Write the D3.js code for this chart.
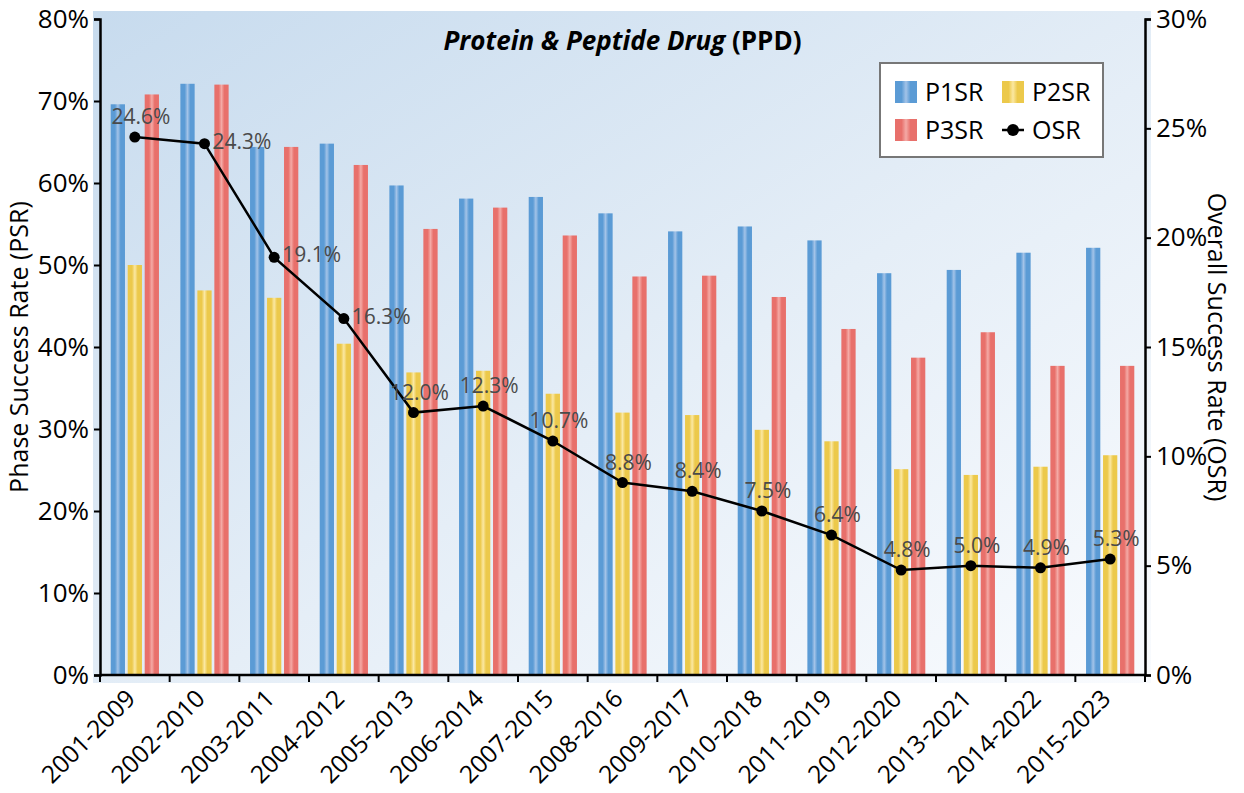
<!DOCTYPE html>
<html>
<head>
<meta charset="utf-8">
<script src="https://cdn.jsdelivr.net/npm/d3@7"></script>
<style>
  body { margin: 0; background: #fff; }
  text { font-family: "Open Sans", "Noto Sans", sans-serif; }
</style>
</head>
<body>
<div id="chart"></div>
<script>
// data
const categories = ["2001-2009", "2002-2010", "2003-2011", "2004-2012", "2005-2013",
  "2006-2014", "2007-2015", "2008-2016", "2009-2017", "2010-2018", "2011-2019",
  "2012-2020", "2013-2021", "2014-2022", "2015-2023"];
const p1sr = [69.6, 72.1, 64.4, 64.8, 59.7, 58.1, 58.3, 56.3, 54.1, 54.7, 53.0, 49.0, 49.4, 51.5, 52.1];
const p2sr = [50.0, 46.9, 46.0, 40.4, 36.9, 37.1, 34.3, 32.0, 31.7, 29.9, 28.5, 25.1, 24.4, 25.4, 26.8];
const p3sr = [70.8, 72.0, 64.4, 62.2, 54.4, 57.0, 53.6, 48.6, 48.7, 46.1, 42.2, 38.7, 41.8, 37.7, 37.7];
const osr = [24.6, 24.3, 19.1, 16.3, 12.0, 12.3, 10.7, 8.8, 8.4, 7.5, 6.4, 4.8, 5.0, 4.9, 5.3];
const seriesNames = ["P1SR", "P2SR", "P3SR"];
const leftTicks = [0, 10, 20, 30, 40, 50, 60, 70, 80];
const rightTicks = [0, 5, 10, 15, 20, 25, 30];

const width = 1244;
const height = 793;
const margin = { top: 19, bottom: 118, left: 100, right: 99 };

const svg = d3.select("#chart")
  .append("svg")
  .attr("width", width)
  .attr("height", height);

const defs = svg.append("defs");

// soft diagonal background of plot area
const bg = defs.append("linearGradient")
  .attr("id", "bg")
  .attr("x1", 0).attr("y1", 0)
  .attr("x2", 1).attr("y2", 1);
bg.append("stop").attr("offset", "0%").attr("stop-color", "#c7dbee");
bg.append("stop").attr("offset", "55%").attr("stop-color", "#e5eef7");
bg.append("stop").attr("offset", "100%").attr("stop-color", "#f9fbfe");

// bar gradients: darker edges, light stripe in the middle
const barColors = {
  P1SR: { edge: "#5b9bd5", mid: "#a3c3e8" },
  P2SR: { edge: "#ecc94b", mid: "#fbe8a2" },
  P3SR: { edge: "#e8706b", mid: "#f4aaa6" }
};
seriesNames.forEach(name => {
  const g = defs.append("linearGradient")
    .attr("id", "grad-" + name)
    .attr("x1", 0).attr("x2", 1).attr("y1", 0).attr("y2", 0);
  [[0, "edge"], [0.3, "edge"], [0.5, "mid"], [0.7, "edge"], [1, "edge"]].forEach(s => {
    g.append("stop")
      .attr("offset", s[0])
      .attr("stop-color", barColors[name][s[1]]);
  });
});

// scales
const x = d3.scaleBand()
  .domain(categories)
  .range([margin.left, width - margin.right]);

const xInner = d3.scaleBand()
  .domain(seriesNames)
  .range([0, x.bandwidth()])
  .paddingInner(0.16)
  .paddingOuter(0.63);

const y = d3.scaleLinear()
  .domain([0, 80])
  .range([height - margin.bottom, margin.top]);

const y2 = d3.scaleLinear()
  .domain([0, 30])
  .range([height - margin.bottom, margin.top]);

svg.append("rect")
  .attr("x", margin.left - 7)
  .attr("y", margin.top - 8)
  .attr("width", width - margin.left - margin.right + 13)
  .attr("height", height - margin.top - margin.bottom + 16)
  .attr("fill", "url(#bg)");

// title
const title = svg.append("text")
  .attr("x", (margin.left + width - margin.right) / 2)
  .attr("y", 50)
  .attr("text-anchor", "middle")
  .attr("font-size", 26)
  .attr("font-weight", "bold")
  .attr("fill", "#000");
title.append("tspan").attr("font-style", "italic").text("Protein & Peptide Drug");
title.append("tspan").text(" (PPD)");

// bars
const rows = categories.map((c, i) => ({ cat: c, P1SR: p1sr[i], P2SR: p2sr[i], P3SR: p3sr[i] }));

const groups = svg.selectAll("g.group")
  .data(rows)
  .enter()
  .append("g")
  .attr("class", "group")
  .attr("transform", d => `translate(${x(d.cat)},0)`);

groups.selectAll("rect")
  .data(d => seriesNames.map(s => ({ key: s, value: d[s] })))
  .enter()
  .append("rect")
  .attr("x", d => xInner(d.key))
  .attr("width", xInner.bandwidth())
  .attr("y", d => y(d.value))
  .attr("height", d => y(0) - y(d.value))
  .attr("fill", d => `url(#grad-${d.key})`);

// axes
function leftAxis(g) {
  g.attr("transform", `translate(${margin.left},0)`)
    .call(d3.axisLeft(y).tickValues(leftTicks).tickSize(6).tickPadding(5).tickFormat(d => d + "%"));
}
function rightAxis(g) {
  g.attr("transform", `translate(${width - margin.right},0)`)
    .call(d3.axisRight(y2).tickValues(rightTicks).tickSize(6).tickPadding(5).tickFormat(d => d + "%"));
}
function bottomAxis(g) {
  const bounds = categories.map(c => x(c)).concat([width - margin.right]);
  g.attr("transform", `translate(0,${height - margin.bottom})`);
  g.append("line")
    .attr("x1", margin.left).attr("x2", width - margin.right)
    .attr("stroke", "#000").attr("stroke-width", 2.5);
  g.selectAll("line.tick")
    .data(bounds)
    .enter()
    .append("line")
    .attr("class", "tick")
    .attr("x1", d => d).attr("x2", d => d)
    .attr("y1", 0).attr("y2", 7)
    .attr("stroke", "#000").attr("stroke-width", 2);
  g.selectAll("text")
    .data(categories)
    .enter()
    .append("text")
    .attr("transform", d => `translate(${x(d) + x.bandwidth() / 2 + 2},${25}) rotate(-45)`)
    .attr("text-anchor", "end")
    .attr("font-size", 24.5)
    .attr("fill", "#000")
    .text(d => d);
}

[leftAxis, rightAxis].forEach(fn => {
  const g = svg.append("g").call(fn);
  g.select(".domain").attr("stroke", "#000").attr("stroke-width", 2.5);
  g.selectAll(".tick line").attr("stroke", "#000").attr("stroke-width", 2);
  g.selectAll(".tick text")
    .attr("font-size", 26)
    .attr("fill", "#000")
    .style("font-family", "'Open Sans', sans-serif");
});
svg.append("g").call(bottomAxis);

// axis titles
svg.append("text")
  .attr("transform", `translate(28,${(margin.top + height - margin.bottom) / 2}) rotate(-90)`)
  .attr("text-anchor", "middle")
  .attr("font-size", 25)
  .attr("fill", "#000")
  .text("Phase Success Rate (PSR)");

svg.append("text")
  .attr("transform", `translate(1208,${(margin.top + height - margin.bottom) / 2}) rotate(90)`)
  .attr("text-anchor", "middle")
  .attr("font-size", 25)
  .attr("fill", "#000")
  .text("Overall Success Rate (OSR)");

// OSR line
const cx = i => x(categories[i]) + x.bandwidth() / 2;
const line = d3.line()
  .x((d, i) => cx(i))
  .y(d => y2(d));

svg.append("path")
  .datum(osr)
  .attr("d", line)
  .attr("fill", "none")
  .attr("stroke", "#000")
  .attr("stroke-width", 2.5);

svg.selectAll("circle.osr")
  .data(osr)
  .enter()
  .append("circle")
  .attr("class", "osr")
  .attr("cx", (d, i) => cx(i))
  .attr("cy", d => y2(d))
  .attr("r", 5.5)
  .attr("fill", "#000");

// labels: steep-drop points get their label on the right, the rest above
const sideLabel = i => i >= 1 && i <= 3;
svg.selectAll("text.osr-label")
  .data(osr)
  .enter()
  .append("text")
  .attr("class", "osr-label")
  .attr("x", (d, i) => cx(i) + (sideLabel(i) ? 8 : 6))
  .attr("y", (d, i) => y2(d) + (sideLabel(i) ? 5 : -13))
  .attr("text-anchor", (d, i) => sideLabel(i) ? "start" : "middle")
  .attr("font-size", 21)
  .attr("fill", "#4a4a4a")
  .text(d => d.toFixed(1) + "%");

// legend
const legend = svg.append("g").attr("transform", "translate(880,63)");
legend.append("rect")
  .attr("width", 223)
  .attr("height", 94)
  .attr("fill", "#fff")
  .attr("stroke", "#777")
  .attr("stroke-width", 2);

const legendItems = [
  { name: "P1SR", col: 0, row: 0 },
  { name: "P2SR", col: 1, row: 0 },
  { name: "P3SR", col: 0, row: 1 },
  { name: "OSR", col: 1, row: 1 }
];
const item = legend.selectAll("g.item")
  .data(legendItems)
  .enter()
  .append("g")
  .attr("class", "item")
  .attr("transform", d => `translate(${15 + d.col * 107},${18 + d.row * 38})`);

item.filter(d => d.name !== "OSR")
  .append("rect")
  .attr("width", 22)
  .attr("height", 22)
  .attr("fill", d => `url(#grad-${d.name})`);

const osrKey = item.filter(d => d.name === "OSR");
osrKey.append("line")
  .attr("x1", 0).attr("x2", 22)
  .attr("y1", 11).attr("y2", 11)
  .attr("stroke", "#000").attr("stroke-width", 2.5);
osrKey.append("circle")
  .attr("cx", 11).attr("cy", 11).attr("r", 6)
  .attr("fill", "#000");

item.append("text")
  .attr("x", 30)
  .attr("y", 11)
  .attr("dy", "0.36em")
  .attr("font-size", 25)
  .attr("fill", "#000")
  .text(d => d.name);
</script>
</body>
</html>
